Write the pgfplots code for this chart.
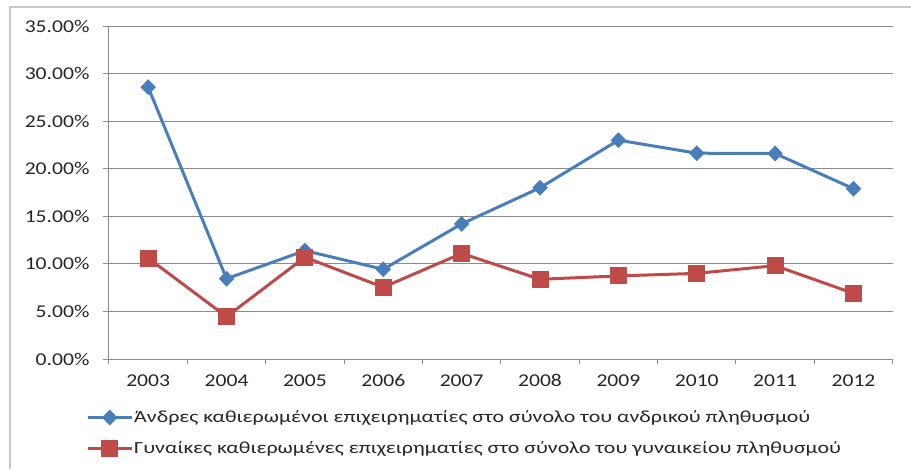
\documentclass[border=0pt]{standalone}
\usepackage{pgfplots}
\pgfplotsset{compat=1.18}
\usepackage{fontspec}
\setmainfont{Carlito}
\newfontfamily\tickfont[FakeStretch=1.2]{Carlito}
\newfontfamily\legfont[FakeStretch=1.29]{Carlito}
\definecolor{menblue}{HTML}{4A7EBB}
\definecolor{womenred}{HTML}{BE4B48}
\definecolor{gridgray}{HTML}{8C8C8C}
\definecolor{framegray}{HTML}{C8C8C8}
\definecolor{textgray}{HTML}{262626}

\begin{document}
\begin{tikzpicture}[x=1pt,y=1pt]
\useasboundingbox (0,0) rectangle (911,469);
\draw[framegray, line width=2pt] (10,0) -- (10,462) -- (911,462);
\begin{axis}[
    at={(109pt,110pt)}, anchor=south west,
    scale only axis, width=783.7pt, height=333pt,
    font=\tickfont\fontsize{18}{21}\selectfont,
    xmin=-0.5, xmax=9.5, ymin=0, ymax=35,
    xtick={0,...,9},
    xticklabels={2003,2004,2005,2006,2007,2008,2009,2010,2011,2012},
    minor xtick={-0.5,0.5,...,9.5},
    ytick={0,5,...,35},
    yticklabel={\pgfmathprintnumber[fixed,fixed zerofill,precision=2]{\tick}\%},
    /pgf/number format/assume math mode=true,
    axis x line*=bottom, axis y line*=left,
    axis line style={gridgray, line width=1pt, -},
    tick align=outside,
    major x tick style={draw=none},
    minor x tick style={gridgray, line width=1pt},
    major y tick style={gridgray, line width=1pt},
    major tick length=6pt, minor tick length=5pt,
    ymajorgrids, grid style={gridgray, line width=1pt},
    tick label style={text=textgray},
    xticklabel style={yshift=-6pt},
    yticklabel style={xshift=-10pt},
    legend cell align=left,
    legend style={at={(-0.0293,-0.152)}, anchor=north west, draw=none,
        fill=none, inner sep=0pt, row sep=15pt,
        font=\legfont\fontsize{17}{20}\selectfont,
        nodes={inner sep=1pt, text=textgray}},
    legend image code/.code={
        \draw[mark repeat=2,mark phase=2] plot coordinates {(0pt,0pt) (22pt,0pt) (44pt,0pt)};
    },
]
\addplot[menblue, line width=3pt, mark=diamond*, mark size=5.8pt, mark options={solid, xscale=1.3}]
coordinates {(0,28.57) (1,8.44) (2,11.39) (3,9.43) (4,14.2) (5,18.0) (6,23.0) (7,21.63) (8,21.6) (9,17.9)};
\addlegendentry{Άνδρες καθιερωμένοι επιχειρηματίες στο σύνολο του ανδρικού πληθυσμού}
\addplot[womenred, line width=3pt, mark=square*, mark size=7pt, mark options={solid}]
coordinates {(0,10.6) (1,4.45) (2,10.7) (3,7.54) (4,11.1) (5,8.38) (6,8.73) (7,9.0) (8,9.81) (9,6.9)};
\addlegendentry{Γυναίκες καθιερωμένες επιχειρηματίες στο σύνολο του γυναικείου πληθυσμού}
\end{axis}
\end{tikzpicture}
\end{document}
